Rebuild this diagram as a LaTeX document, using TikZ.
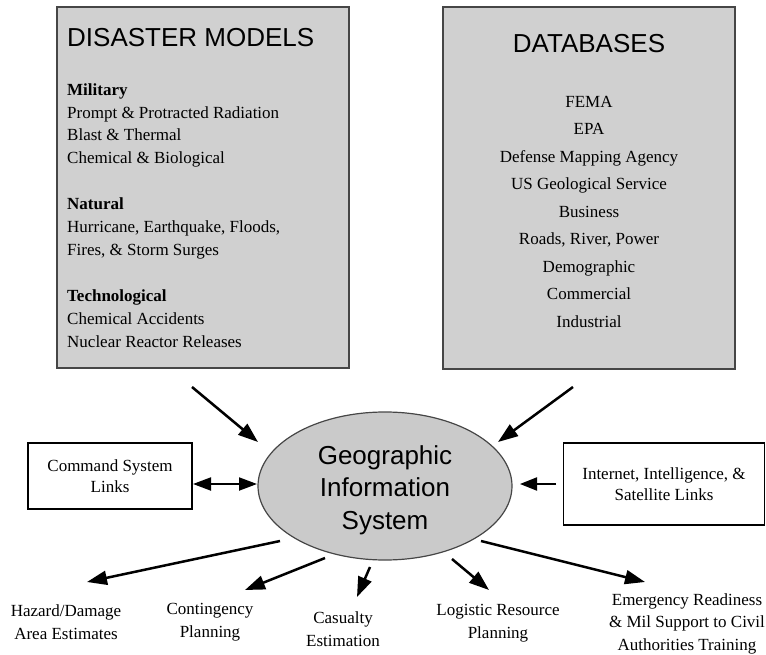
\documentclass[tikz,border=0pt]{standalone}
\usepackage{fontspec}
\setmainfont{Liberation Serif}
\newfontfamily\hel{Liberation Sans}
\usetikzlibrary{arrows.meta,shapes.geometric}
\definecolor{boxgray}{RGB}{208,208,208}
\definecolor{ellgray}{RGB}{202,202,202}
\definecolor{edgegray}{RGB}{70,70,70}
\begin{document}
\begin{tikzpicture}[x=1pt,y=-1pt,
  panel/.style={draw=edgegray, line width=1.4pt, fill=boxgray, inner sep=0, rectangle},
  linkbox/.style={draw=black, line width=1.2pt, fill=white, inner sep=0, rectangle, align=center,
    font=\fontsize{17}{20.5}\selectfont},
  title/.style={font=\hel\fontsize{26}{30}\selectfont, inner sep=0},
  body/.style={font=\fontsize{17}{22.6}\selectfont, inner sep=0, align=left, anchor=base west},
  outlabel/.style={font=\fontsize{17}{22.5}\selectfont, inner sep=0, align=center, anchor=base},
  arr/.style={line width=2.5pt, -{Triangle[length=20pt,width=14pt]}},
  darr/.style={line width=2pt, {Triangle[length=18pt,width=13pt]}-{Triangle[length=18pt,width=13pt]}}
]
\useasboundingbox (0,0) rectangle (766,655);

% panels
\node[panel, minimum width=292pt, minimum height=361pt] (dm) at (203,187.5) {};
\node[panel, minimum width=292pt, minimum height=362pt] (db) at (589,188) {};

\node[title, anchor=base west] (dmt) at (67,47) {DISASTER MODELS};
\node[title, anchor=base] (dbt) at (589,53) {DATABASES};

% multi-line nodes: anchor base = baseline of the last line
\node[body] (mil) at (67,163.5) {\textbf{Military}\\Prompt \& Protracted Radiation\\Blast \& Thermal\\Chemical \& Biological};
\node[body] (nat) at (67,255) {\textbf{Natural}\\Hurricane, Earthquake, Floods,\\Fires, \& Storm Surges};
\node[body] (tech) at (67,347) {\textbf{Technological}\\Chemical Accidents\\Nuclear Reactor Releases};

\node[font=\fontsize{17}{27.5}\selectfont, inner sep=0, align=center, anchor=base] (dbl) at (589,327)
 {FEMA\\EPA\\Defense Mapping Agency\\US Geological Service\\Business\\Roads, River, Power\\Demographic\\Commercial\\Industrial};

% GIS ellipse
\node[ellipse, draw=edgegray, line width=1.2pt, fill=ellgray, minimum width=254pt, minimum height=148pt,
  inner sep=0, align=center, font=\hel\fontsize{26}{32.5}\selectfont] (gis) at (385,486)
  {\rule{0pt}{27pt}Geographic\\Information\\System};

% link boxes
\node[linkbox, minimum width=164pt, minimum height=66pt] (cmd) at (110,476) {Command System\\Links};
\node[linkbox, minimum width=201pt, minimum height=82pt] (net) at (664,484) {Internet, Intelligence, \&\\Satellite Links};

% output labels (base = last line)
\node[outlabel] (haz) at (66,639) {Hazard/Damage\\Area Estimates};
\node[outlabel] (con) at (210,637) {Contingency\\Planning};
\node[outlabel] (cas) at (343,646) {Casualty\\Estimation};
\node[outlabel] (log) at (498,638) {Logistic Resource\\Planning};
\node[outlabel] (emg) at (687,650) {Emergency Readiness\\\& Mil Support to Civil\\Authorities Training};

% connector end points
\coordinate (dmS) at (192,387);
\coordinate (dmE) at (258,442);
\coordinate (dbS) at (573,387);
\coordinate (dbE) at (498,442);
\coordinate (cmdE) at (193,484);
\coordinate (gisW) at (257,484);
\coordinate (netW) at (556,484);
\coordinate (gisE) at (520,484);
\coordinate (hazS) at (280,541);
\coordinate (hazE) at (87,582);
\coordinate (conS) at (325,558);
\coordinate (conE) at (245,590);
\coordinate (casS) at (370,567);
\coordinate (casE) at (357,597);
\coordinate (logS) at (452,559);
\coordinate (logE) at (489,590);
\coordinate (emgS) at (481,541);
\coordinate (emgE) at (645,582);

\draw[arr] (dmS) -- (dmE);
\draw[arr] (dbS) -- (dbE);
\draw[darr] (cmdE) -- (gisW);
\draw[arr, line width=2pt, -{Triangle[length=17pt,width=13pt]}] (netW) -- (gisE);
\draw[arr] (hazS) -- (hazE);
\draw[arr] (conS) -- (conE);
\draw[arr] (casS) -- (casE);
\draw[arr] (logS) -- (logE);
\draw[arr] (emgS) -- (emgE);
\end{tikzpicture}
\end{document}
